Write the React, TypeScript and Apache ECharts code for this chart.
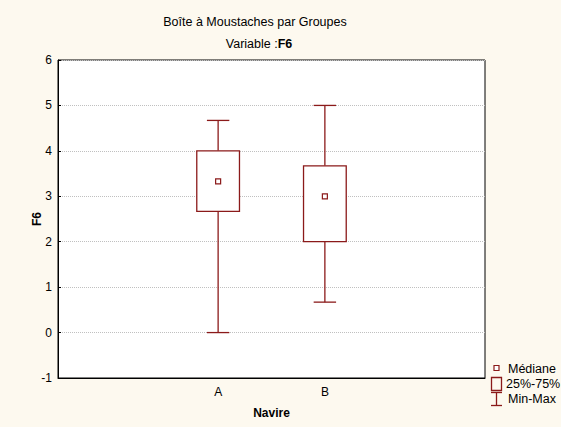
import React, { useEffect, useRef } from "react";
import * as echarts from "echarts";

const categories = ["", "A", "B", ""];
const groups = ["A", "B"];
const minValues = [0, 0.67];
const q1Values = [2.67, 2];
const medianValues = [3.33, 3];
const q3Values = [4, 3.67];
const maxValues = [4.67, 5];
const yTicks = [-1, 0, 1, 2, 3, 4, 5, 6];

const RED = "#8b1a1a";
const FONT = "Liberation Sans, Arial, sans-serif";

export default function App() {
  const ref = useRef<HTMLDivElement>(null);
  useEffect(() => {
    if (!ref.current) return;
    const chart = echarts.init(ref.current, undefined, { renderer: "svg" });
    const data = groups.map((g, i) => [
      categories.indexOf(g),
      minValues[i],
      q1Values[i],
      medianValues[i],
      q3Values[i],
      maxValues[i],
    ]);
    chart.setOption({
      animation: false,
      backgroundColor: "#fdf9ef",
      textStyle: { fontFamily: FONT },
      grid: {
        left: 58,
        top: 60,
        right: 76,
        bottom: 49,
        show: true,
        backgroundColor: "#fff",
        borderColor: "#000",
        borderWidth: 1,
      },
      xAxis: {
        type: "category",
        data: categories,
        boundaryGap: true,
        name: "Navire",
        nameLocation: "middle",
        nameGap: 29,
        nameTextStyle: { fontSize: 12, fontWeight: "bold", color: "#000", fontFamily: FONT },
        axisLine: { onZero: false, lineStyle: { color: "#000" } },
        axisTick: { alignWithLabel: true, inside: true, length: 3, lineStyle: { color: "#000" } },
        axisLabel: { fontSize: 12, color: "#000", margin: 8, fontFamily: FONT },
        splitLine: { show: false },
      },
      yAxis: {
        type: "value",
        min: yTicks[0],
        max: yTicks[yTicks.length - 1],
        interval: 1,
        axisLine: { show: true, onZero: false, lineStyle: { color: "#000" } },
        axisTick: { show: true, inside: true, length: 3, lineStyle: { color: "#000" } },
        axisLabel: { fontSize: 12, color: "#000", margin: 6, fontFamily: FONT },
        splitLine: { show: true, lineStyle: { color: "#c0c0c0", type: [1, 1], width: 1 } },
      },
      series: [
        {
          type: "custom",
          data,
          encode: { x: 0, y: [1, 2, 3, 4, 5] },
          renderItem: (params: any, api: any) => {
            const x = api.value(0);
            const band = api.size([1, 0])[0];
            const boxW = band * 0.4;
            const capW = band * 0.21;
            const pMin = api.coord([x, api.value(1)]);
            const pQ1 = api.coord([x, api.value(2)]);
            const pMed = api.coord([x, api.value(3)]);
            const pQ3 = api.coord([x, api.value(4)]);
            const pMax = api.coord([x, api.value(5)]);
            const cx = pMin[0];
            const ls = { stroke: RED, lineWidth: 1.3, fill: "none" };
            return {
              type: "group",
              children: [
                { type: "line", shape: { x1: cx, y1: pMax[1], x2: cx, y2: pQ3[1] }, style: ls },
                { type: "line", shape: { x1: cx, y1: pQ1[1], x2: cx, y2: pMin[1] }, style: ls },
                { type: "line", shape: { x1: cx - capW / 2, y1: pMax[1], x2: cx + capW / 2, y2: pMax[1] }, style: ls },
                { type: "line", shape: { x1: cx - capW / 2, y1: pMin[1], x2: cx + capW / 2, y2: pMin[1] }, style: ls },
                {
                  type: "rect",
                  shape: { x: cx - boxW / 2, y: pQ3[1], width: boxW, height: pQ1[1] - pQ3[1] },
                  style: { stroke: RED, lineWidth: 1.3, fill: "#fff" },
                },
                {
                  type: "rect",
                  shape: { x: cx - 2.5, y: pMed[1] - 2.5, width: 5, height: 5 },
                  style: { stroke: RED, lineWidth: 1.2, fill: "#fff" },
                },
              ],
            };
          },
        },
      ],
      graphic: [
        {
          type: "text",
          x: 255,
          y: 22,
          style: { text: "Boîte à Moustaches par Groupes", font: `12.5px ${FONT}`, fill: "#000", textAlign: "center", textVerticalAlign: "middle" },
        },
        {
          type: "text",
          x: 259,
          y: 44,
          style: {
            text: "{n|Variable :}{b|F6}",
            textAlign: "center",
            textVerticalAlign: "middle",
            rich: {
              n: { fontSize: 12.5, fill: "#000", fontFamily: FONT },
              b: { fontSize: 12.5, fill: "#000", fontWeight: "bold", fontFamily: FONT },
            },
          },
        },
        {
          type: "text",
          x: 37,
          y: 219,
          rotation: Math.PI / 2,
          style: { text: "F6", font: `bold 12px ${FONT}`, fill: "#000", textAlign: "center", textVerticalAlign: "middle" },
        },
        { type: "rect", shape: { x: 494, y: 365.5, width: 5, height: 5 }, style: { stroke: RED, lineWidth: 1.2, fill: "#fff" } },
        { type: "text", x: 508, y: 369, style: { text: "Médiane", font: `12.5px ${FONT}`, fill: "#000", textVerticalAlign: "middle" } },
        { type: "rect", shape: { x: 491.5, y: 377.5, width: 10, height: 13 }, style: { stroke: RED, lineWidth: 1.3, fill: "none" } },
        { type: "text", x: 506, y: 384, style: { text: "25%-75%", font: `12.5px ${FONT}`, fill: "#000", textVerticalAlign: "middle" } },
        { type: "line", shape: { x1: 496.5, y1: 392.5, x2: 496.5, y2: 405.5 }, style: { stroke: RED, lineWidth: 1.3 } },
        { type: "line", shape: { x1: 491, y1: 392.5, x2: 502, y2: 392.5 }, style: { stroke: RED, lineWidth: 1.3 } },
        { type: "line", shape: { x1: 491, y1: 405.5, x2: 502, y2: 405.5 }, style: { stroke: RED, lineWidth: 1.3 } },
        { type: "text", x: 508, y: 399, style: { text: "Min-Max", font: `12.5px ${FONT}`, fill: "#000", textVerticalAlign: "middle" } },
      ],
    });
    return () => chart.dispose();
  }, []);
  return <div ref={ref} style={{ width: 561, height: 427, position: "fixed", left: 0, top: 0 }} />;
}
